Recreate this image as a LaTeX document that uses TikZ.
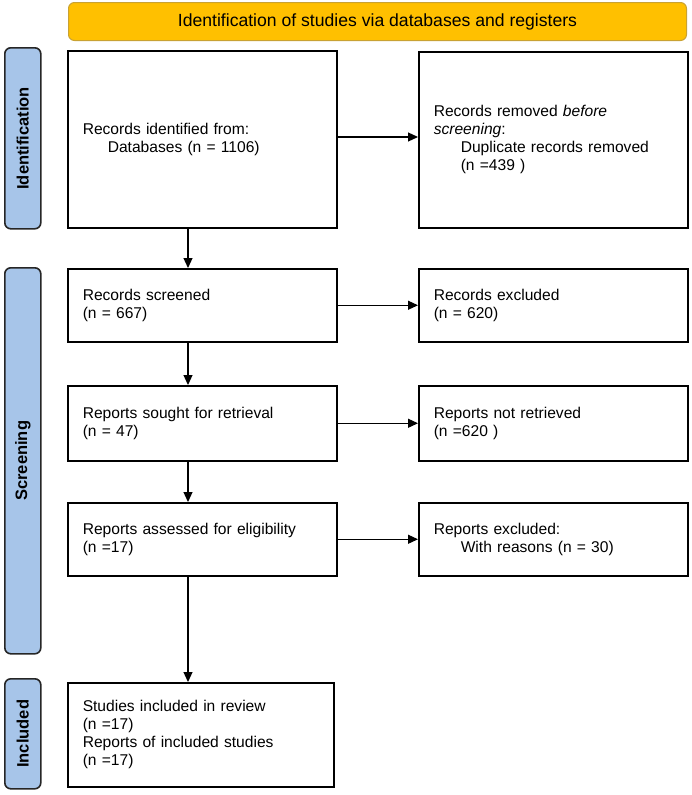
\documentclass[tikz,border=0pt]{standalone}
\usepackage{fontspec}
\setmainfont{Liberation Sans}
\usetikzlibrary{arrows.meta}
\definecolor{bannerfill}{HTML}{FFC000}
\definecolor{bannerline}{HTML}{C9A233}
\definecolor{sidefill}{HTML}{A7C5E9}
\begin{document}
\begin{tikzpicture}[x=1pt,y=-1pt,
  box/.style={draw=black, line width=1.5pt, inner xsep=15pt, inner ysep=0pt, align=left,
    font=\fontsize{15.6}{18}\selectfont, anchor=north west},
  side/.style={draw=black!85, fill=sidefill, line width=1.6pt, rounded corners=6pt,
    minimum width=36pt, anchor=north west, inner sep=0pt},
  sidetext/.style={rotate=90, font=\bfseries\fontsize{16.5}{19}\selectfont},
  arr/.style={line width=1.2pt, -{Triangle[length=10pt,width=9pt]}}
]
\useasboundingbox (0,0) rectangle (692,795);
% banner
\node[draw=bannerline, fill=bannerfill, line width=1pt, rounded corners=6pt,
  minimum width=618pt, minimum height=38pt, anchor=north west, inner sep=0pt,
  font=\fontsize{17.6}{20}\selectfont] (ban) at (68,2)
  {Identification of studies via databases and registers};
% side labels
\node[side, minimum height=181pt] (sid) at (4,47) {};
\node[sidetext] (sidt) at (sid.center) {Identification};
\node[side, minimum height=386pt] (sscr) at (4,267) {};
\node[sidetext] (sscrt) at (sscr.center) {Screening};
\node[side, minimum height=110pt] (sinc) at (4,678) {};
\node[sidetext] (sinct) at (sinc.center) {Included};
% boxes
\node[box, minimum height=177pt, text width=239pt] (b1) at (67,50)
  {Records identified from:\\\hspace*{25pt}Databases (n = 1106)};
\node[box, minimum height=176pt, text width=239pt] (b2) at (418,51)
  {Records removed \textit{before}\\\textit{screening}:\\\hspace*{27pt}Duplicate records removed\\\hspace*{27pt}(n =439 )};
\node[box, minimum height=73pt, text width=239pt] (b3) at (67,268)
  {Records screened\\(n = 667)};
\node[box, minimum height=73pt, text width=239pt] (b4) at (418,268)
  {Records excluded\\(n = 620)};
\node[box, minimum height=75pt, text width=239pt] (b5) at (67,385)
  {Reports sought for retrieval\\(n = 47)};
\node[box, minimum height=75pt, text width=239pt] (b6) at (418,385)
  {Reports not retrieved\\(n =620 )};
\node[box, minimum height=73pt, text width=239pt] (b7) at (67,502)
  {Reports assessed for eligibility\\(n =17)};
\node[box, minimum height=73pt, text width=239pt] (b8) at (418,502)
  {Reports excluded:\\\hspace*{27pt}With reasons (n = 30)};
\node[box, minimum height=104pt, text width=236pt] (b9) at (67,682)
  {Studies included in review\\(n =17)\\Reports of included studies\\(n =17)};
% connectors
\coordinate (ax) at (188,0);
\draw[arr] (b1.east |- 0,137) -- (b2.west |- 0,137);
\draw[arr] (b3.east) -- (b4.west);
\draw[arr] (b5.east) -- (b6.west);
\draw[arr] (b7.east) -- (b8.west);
\draw[arr] (b1.south -| ax) -- (b3.north -| ax);
\draw[arr] (b3.south -| ax) -- (b5.north -| ax);
\draw[arr] (b5.south -| ax) -- (b7.north -| ax);
\draw[arr] (b7.south -| ax) -- (b9.north -| ax);
\end{tikzpicture}
\end{document}
